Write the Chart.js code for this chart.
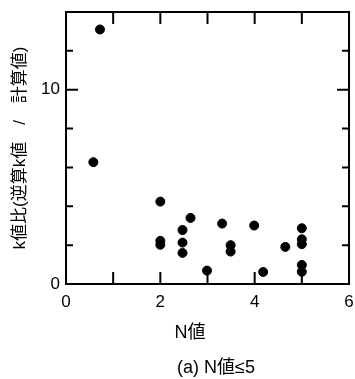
<!DOCTYPE html>
<html>
<head>
<meta charset="utf-8">
<script src="https://cdn.jsdelivr.net/npm/chart.js@4/dist/chart.umd.min.js"></script>
<style>
  html, body { margin: 0; padding: 0; background: #fff; }
  #wrap { width: 355px; height: 379px; }
</style>
</head>
<body>
<div id="wrap"><canvas id="chart"></canvas></div>
<script>
// N値 and k値比
const nValues = [0.72, 0.58, 2.0, 2.0, 2.0, 2.47, 2.47, 2.47, 2.64, 2.99, 3.31, 3.49, 3.49, 3.99, 4.18, 4.65, 5.0, 5.0, 5.0, 5.0, 5.0];
const kRatio  = [13.1, 6.27, 4.24, 2.22, 2.02, 2.78, 2.13, 1.6, 3.4, 0.69, 3.11, 2.0, 1.67, 3.01, 0.62, 1.91, 2.87, 2.3, 2.05, 0.98, 0.63];
const xLabels = [0, 2, 4, 6];
const yLabels = [0, 10];
const xTitle = "N値";
const caption = "(a) N値≤5";

const points = nValues.map((n, i) => ({ x: n, y: kRatio[i] }));

const font = "Liberation Sans, Arial, 'Noto Sans CJK JP', sans-serif";

// frame + inward ticks, like the original plot
const framePlugin = {
    id: "frame",
    afterDraw(chart) {
        const { ctx, chartArea: a } = chart;
        const xs = chart.scales.x, ys = chart.scales.y;
        ctx.save();
        ctx.strokeStyle = "#000";
        ctx.lineWidth = 2;
        ctx.strokeRect(a.left, a.top, a.right - a.left, a.bottom - a.top);
        ctx.beginPath();
        xs.ticks.forEach(t => {
            const px = xs.getPixelForValue(t.value);
            if (px <= a.left + 1 || px >= a.right - 1) return;
            ctx.moveTo(px, a.bottom); ctx.lineTo(px, a.bottom - 12);
            ctx.moveTo(px, a.top); ctx.lineTo(px, a.top + 12);
        });
        ys.ticks.forEach(t => {
            const py = ys.getPixelForValue(t.value);
            if (py <= a.top + 1 || py >= a.bottom - 1) return;
            const len = yLabels.includes(t.value) ? 12 : 7;
            ctx.moveTo(a.left, py); ctx.lineTo(a.left + len, py);
            ctx.moveTo(a.right, py); ctx.lineTo(a.right - len, py);
        });
        ctx.stroke();

        // axis title and caption sit a bit off-centre in the original
        ctx.fillStyle = "#000";
        ctx.font = "18px " + font;
        ctx.textAlign = "center";
        ctx.textBaseline = "middle";
        ctx.fillText(xTitle, a.left + 124, a.bottom + 49);
        ctx.fillText(caption, a.left + 150, a.bottom + 84);
        ctx.restore();
    }
};

new Chart(document.getElementById("chart"), {
    type: "scatter",
    data: {
        datasets: [{
            data: points,
            backgroundColor: "#000",
            borderColor: "#000",
            pointRadius: 4.5,
            pointHoverRadius: 4.5
        }]
    },
    options: {
        responsive: true,
        maintainAspectRatio: false,
        animation: false,
        layout: { padding: { left: 0, right: 6, top: 12, bottom: 0 } },
        plugins: {
            legend: { display: false },
            tooltip: { enabled: false }
        },
        scales: {
            x: {
                type: "linear",
                min: 0,
                max: 6,
                afterFit: s => {
                    s.height = 95;
                    s.paddingLeft = 0; s.paddingRight = 0;
                },
                grid: { display: false, drawTicks: false },
                border: { display: false },
                ticks: {
                    stepSize: 1,
                    padding: 8,
                    color: "#000",
                    font: { family: font, size: 17 },
                    callback: v => xLabels.includes(v) ? String(v) : ""
                }
            },
            y: {
                type: "linear",
                min: 0,
                max: 14,
                afterFit: s => {
                    s.width = 66;
                    s.paddingTop = 0; s.paddingBottom = 0;
                },
                grid: { display: false, drawTicks: false },
                border: { display: false },
                ticks: {
                    stepSize: 1,
                    padding: 6,
                    color: "#000",
                    font: { family: font, size: 17 },
                    callback: v => yLabels.includes(v) ? String(v) : ""
                },
                title: {
                    display: true,
                    text: "k値比(逆算k値　/　計算値)",
                    color: "#000",
                    font: { family: font, size: 17, lineHeight: 1.2 },
                    padding: { top: 10, bottom: 0 }
                }
            }
        }
    },
    plugins: [framePlugin]
});
</script>
</body>
</html>
